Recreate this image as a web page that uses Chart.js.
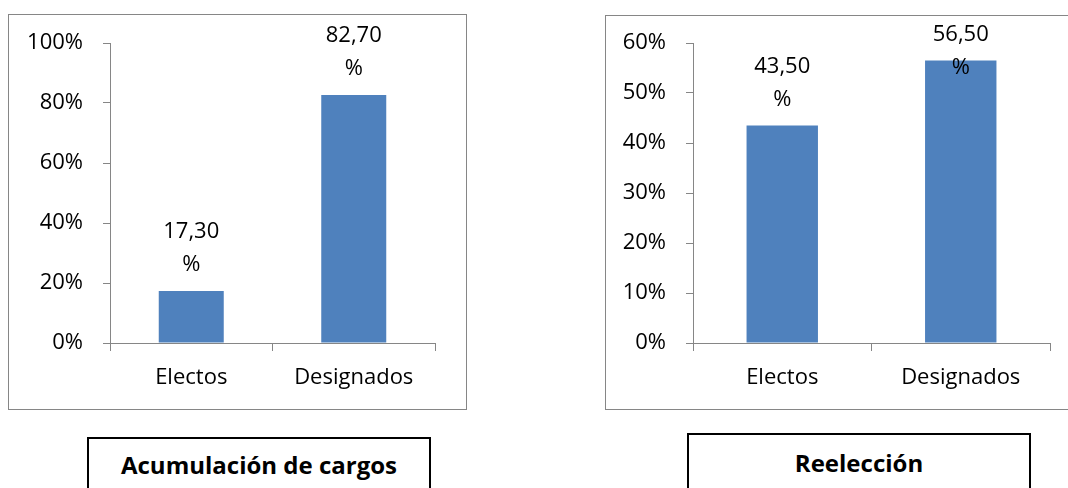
<!DOCTYPE html>
<html>
<head>
<meta charset="utf-8">
<script src="https://cdn.jsdelivr.net/npm/chart.js@4"></script>
<style>
  html, body { margin: 0; padding: 0; background: #fff; }
  body { width: 1068px; height: 488px; position: relative; overflow: hidden; font-family: "Open Sans", sans-serif; }
  .frame { position: absolute; border: 1px solid #868686; box-sizing: border-box; background: #fff; }
  .cv { position: absolute; }
  .caption { position: absolute; border: 2px solid #000; box-sizing: border-box; text-align: center;
             font-family: "Open Sans", sans-serif; font-weight: bold; font-size: 24px; color: #000; }
</style>
</head>
<body>
<div class="frame" style="left:8px;top:14px;width:459px;height:396px;"></div>
<div class="cv" style="left:9px;top:15px;width:457px;height:394px;"><canvas id="c1"></canvas></div>
<div class="frame" style="left:605px;top:15px;width:470px;height:395px;"></div>
<div class="cv" style="left:606px;top:16px;width:462px;height:393px;"><canvas id="c2"></canvas></div>
<div class="caption" id="cap1" style="left:87px;top:437px;width:344px;height:80px;line-height:52px;"></div>
<div class="caption" id="cap2" style="left:687px;top:433px;width:344px;height:80px;line-height:56px;"></div>
<script>
const categories = ["Electos", "Designados"];
const acumulacionValues = [17.30, 82.70];
const reeleccionValues = [43.50, 56.50];
const acumulacionTicks = [0, 20, 40, 60, 80, 100];
const reeleccionTicks = [0, 10, 20, 30, 40, 50, 60];
const captionLeft = "Acumulación de cargos";
const captionRight = "Reelección";

document.getElementById('cap1').textContent = captionLeft;
document.getElementById('cap2').textContent = captionRight;

const FONT = "'Open Sans', sans-serif";
const AXIS = '#868686';
const BAR = '#4F81BD';

const barLabels = {
  id: 'barLabels',
  afterDatasetsDraw(chart) {
    const ctx = chart.ctx;
    const meta = chart.getDatasetMeta(0);
    const data = chart.data.datasets[0].data;
    ctx.save();
    ctx.font = '22px ' + FONT;
    ctx.fillStyle = '#000';
    ctx.textAlign = 'center';
    ctx.textBaseline = 'middle';
    meta.data.forEach((el, i) => {
      let top = el.y - 59;
      const minTop = chart.chartArea.top - 8;
      if (top < minTop) top = minTop;
      const txt = data[i].toFixed(2).replace('.', ',');
      ctx.fillText(txt, el.x, top);
      ctx.fillText('%', el.x, top + 33);
    });
    ctx.restore();
  }
};

function makeChart(id, values, ticks, yWidth, pad) {
  const max = ticks[ticks.length - 1];
  const step = ticks[1] - ticks[0];
  return new Chart(document.getElementById(id), {
    type: 'bar',
    data: {
      labels: categories,
      datasets: [{ data: values, backgroundColor: BAR, borderWidth: 0,
                   barPercentage: 0.4, categoryPercentage: 1.0 }]
    },
    options: {
      responsive: true,
      maintainAspectRatio: false,
      animation: false,
      events: [],
      layout: { padding: pad },
      plugins: { legend: { display: false }, tooltip: { enabled: false } },
      scales: {
        x: {
          grid: { drawOnChartArea: false, drawTicks: true, tickLength: 8, color: AXIS, lineWidth: 1, offset: true },
          border: { display: true, color: AXIS, width: 1 },
          ticks: { color: '#000', font: { family: FONT, size: 22 }, padding: 14, maxRotation: 0 },
          afterFit(s) { s.height = 66; s.paddingLeft = 0; s.paddingRight = 0; }
        },
        y: {
          min: 0, max: max,
          afterBuildTicks(s) { s.ticks = ticks.map(v => ({ value: v })); },
          grid: { drawOnChartArea: false, drawTicks: true, tickLength: 7, color: AXIS, lineWidth: 1 },
          border: { display: true, color: AXIS, width: 1 },
          ticks: { stepSize: step, color: '#000', font: { family: FONT, size: 22 }, padding: 20,
                   callback: v => v + '%' },
          afterFit(s) { s.width = yWidth; s.paddingTop = 0; s.paddingBottom = 0; }
        }
      }
    },
    plugins: [barLabels]
  });
}

makeChart('c1', acumulacionValues, acumulacionTicks, 101, { left: 0, right: 31, top: 28, bottom: 0 });
makeChart('c2', reeleccionValues, reeleccionTicks, 87, { left: 0, right: 18, top: 27, bottom: 0 });
</script>
</body>
</html>
